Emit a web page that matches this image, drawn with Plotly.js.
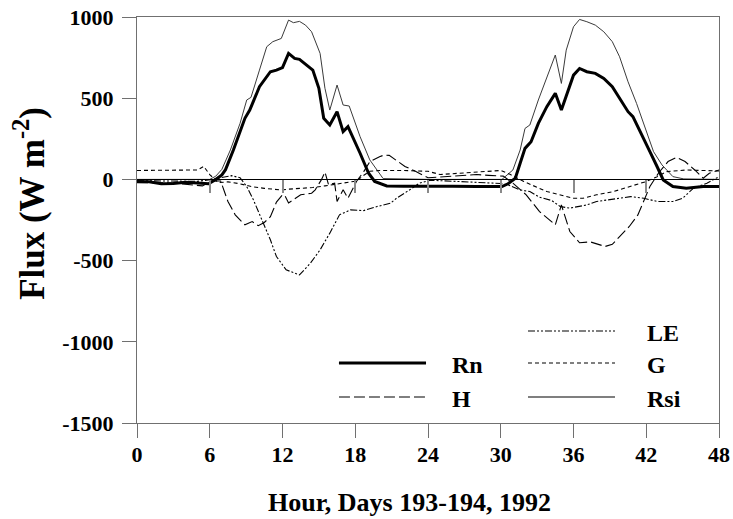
<!DOCTYPE html>
<html>
<head>
<meta charset="utf-8">
<script src="https://cdn.plot.ly/plotly-3.0.1.min.js"></script>
<style>html,body{margin:0;padding:0;background:#fff;}#chart{width:733px;height:519px;}</style>
</head>
<body>
<div id="chart"></div>
<script>
// ---- data (hour, W m-2) ----
const rsiHour = [0, 6.0, 6.5, 7.0, 7.7, 8.5, 9.05, 9.4, 10.1, 10.7, 11.2, 11.9, 12.5, 12.9, 13.4, 13.9, 14.4, 15.1, 15.5, 15.9, 16.5, 17.0, 17.5, 18.4, 19.2, 20.3, 24, 30.1, 31.0, 31.6, 32.0, 32.4, 33.1, 33.8, 34.5, 35.0, 35.4, 36.0, 36.5, 37.1, 37.8, 38.5, 39.2, 39.8, 40.5, 41.2, 41.9, 42.6, 43.3, 44.2, 45.1, 48];
const rsiFlux = [0, 0, 20, 62, 181, 345, 489, 505, 673, 817, 848, 868, 981, 965, 973, 950, 909, 776, 561, 427, 581, 458, 452, 263, 120, 5, 0, 0, 58, 181, 314, 335, 489, 632, 766, 591, 796, 940, 985, 971, 950, 909, 848, 755, 601, 468, 314, 171, 89, 17, 3, 0];

const rnHour = [0, 1, 2, 3, 4, 5, 5.9, 6.4, 7.0, 7.3, 7.95, 8.9, 9.3, 10.1, 11.0, 11.5, 12.0, 12.5, 13.0, 13.4, 14.0, 14.5, 15.0, 15.4, 15.9, 16.5, 17.0, 17.4, 18.4, 19.1, 19.6, 20.6, 22, 24, 26, 28, 30.1, 30.6, 31.2, 31.6, 32.0, 32.5, 33.1, 33.8, 34.5, 35.0, 35.6, 36.0, 36.5, 37.1, 37.8, 38.5, 39.2, 39.8, 40.5, 40.9, 41.6, 42.3, 42.9, 43.4, 44.2, 45.3, 46.7, 48];
const rnFlux = [-13, -15, -27, -25, -18, -22, -27, -5, 28, 60, 181, 376, 427, 571, 663, 673, 689, 776, 745, 739, 704, 673, 561, 376, 335, 417, 294, 325, 161, 38, -13, -40, -42, -40, -42, -44, -44, -27, 7, 99, 191, 232, 345, 448, 530, 427, 550, 642, 683, 663, 653, 622, 571, 499, 417, 386, 274, 171, 78, -3, -44, -54, -44, -44];

const hHour = [0, 3, 5.4, 6.2, 6.9, 7.5, 8.1, 8.9, 9.5, 10.0, 10.5, 11.0, 11.5, 12.0, 12.2, 12.5, 12.9, 13.5, 14.4, 14.7, 15.2, 15.5, 15.8, 16.3, 16.5, 17.0, 17.4, 17.7, 18.1, 18.7, 19.2, 20.0, 20.4, 20.8, 21.3, 22.1, 23.0, 24.0, 25, 26, 27, 28, 29, 30.2, 31.0, 32.1, 33.2, 34.5, 35.0, 35.7, 36.5, 37.4, 38.6, 39.2, 39.8, 40.6, 41.3, 41.8, 42.3, 43.0, 43.8, 44.5, 45.2, 46.0, 46.7, 47.2, 48];
const hFlux = [-20, -22, -40, -8, -10, -136, -218, -280, -260, -285, -265, -230, -140, -95, -100, -145, -125, -95, -85, -64, -3, 45, -33, -23, -136, -64, -116, -75, -13, 48, 109, 140, 150, 148, 120, 80, 48, 10, 15, 20, 25, 30, 25, 20, -23, -95, -198, -280, -157, -321, -390, -385, -413, -400, -352, -290, -220, -130, -44, 38, 110, 135, 110, 58, 7, 38, 58];

const gHour = [0, 2, 4, 5.0, 5.5, 6.0, 6.7, 7.5, 8.4, 9.5, 10.5, 11.9, 12.5, 13.8, 14.5, 15.5, 16.5, 17.5, 18.1, 18.6, 19.2, 20, 22, 24, 25, 26, 27, 28, 29, 30, 30.8, 31.9, 33.8, 35.4, 36.0, 36.8, 37.9, 39.3, 40.7, 42.0, 42.9, 43.7, 45.3, 48];
const gFlux = [55, 55, 55, 58, 80, 30, -20, -15, -26, -45, -55, -65, -60, -55, -50, -40, -30, -20, -10, 20, 50, 55, 55, 50, 30, 35, 40, 48, 50, 55, 30, -13, -75, -106, -116, -116, -95, -75, -44, -13, 17, 48, 58, 52];

const leHour = [0, 3, 5, 6.2, 7.0, 7.8, 8.5, 9.05, 9.6, 10.4, 11.0, 11.5, 12.3, 13.4, 14.3, 15.1, 15.9, 16.7, 17.6, 18.7, 19.8, 20.9, 21.4, 22.5, 23.3, 24.2, 26, 28, 30, 30.6, 31.6, 32.4, 33.2, 34.2, 34.9, 35.7, 36.3, 37.1, 37.9, 38.7, 39.8, 40.7, 41.8, 42.9, 44.2, 45.0, 45.9, 47, 48];
const leFlux = [-8, -10, -12, 0, 10, 23, 10, -44, -126, -270, -372, -475, -557, -588, -516, -434, -331, -218, -188, -192, -167, -147, -116, -64, -23, -5, -10, -15, -25, -34, -65, -75, -110, -130, -167, -177, -167, -157, -136, -126, -116, -106, -116, -136, -136, -116, -54, -24, 17];

const xTicks = [0, 6, 12, 18, 24, 30, 36, 42, 48];
const yTicks = [1000, 500, 0, -500, -1000, -1500];
const legendNames = ['LE', 'G', 'Rsi', 'Rn', 'H'];
const xTitle = 'Hour, Days 193-194, 1992';
const yTitle = 'Flux (W m<sup>-2</sup>)';

const FONT = 'Liberation Serif';

const traces = [
  {x: rsiHour, y: rsiFlux, name: 'Rsi', mode: 'lines', line: {color: '#3a3a3a', width: 1}},
  {x: leHour, y: leFlux, name: 'LE', mode: 'lines', line: {color: '#000', width: 1.1, dash: '7px,2px,2px,2px,2px,2px'}},
  {x: gHour, y: gFlux, name: 'G', mode: 'lines', line: {color: '#000', width: 1.1, dash: '4px,3px'}},
  {x: hHour, y: hFlux, name: 'H', mode: 'lines', line: {color: '#000', width: 1.1, dash: '11px,4px'}},
  {x: rnHour, y: rnFlux, name: 'Rn', mode: 'lines', line: {color: '#000', width: 3}},
  {x: [0], y: [null], xaxis: 'x2', showlegend: false, hoverinfo: 'skip'}
];

// legend drawn inside the plot (paper coords)
const legendRows = {LE: 0.2266, G: 0.1478, Rsi: 0.0640, Rn: 0.1478, H: 0.0640};
const legendStyles = {
  LE: {color: '#000', width: 1.1, dash: '7px,2px,2px,2px,2px,2px'},
  G: {color: '#000', width: 1.1, dash: '4px,3px'},
  Rsi: {color: '#000', width: 1.1},
  Rn: {color: '#000', width: 3},
  H: {color: '#000', width: 1.1, dash: '11px,4px'}
};
const shapes = [];
const annotations = [];
legendNames.forEach(function (n) {
  const left = (n === 'Rn' || n === 'H');
  const x0 = left ? 0.347 : 0.6718, x1 = left ? 0.4966 : 0.8213;
  const tx = left ? 0.5378 : 0.8729;
  const y = legendRows[n];
  shapes.push({type: 'line', xref: 'paper', yref: 'paper', x0: x0, x1: x1, y0: y, y1: y, line: legendStyles[n]});
  annotations.push({xref: 'paper', yref: 'paper', x: tx, y: y - 0.006, xanchor: 'left', yanchor: 'middle', showarrow: false,
    text: n, font: {family: FONT, size: 24, color: '#000', weight: 'bold'}});
});
// axis titles
annotations.push({xref: 'paper', yref: 'paper', x: 0.4674, y: -0.2345, xanchor: 'center', yanchor: 'bottom', showarrow: false,
  borderpad: 0, text: xTitle, font: {family: FONT, size: 26, color: '#000', weight: 'bold'}});
annotations.push({xref: 'paper', yref: 'paper', x: -0.184, y: 0.542, xanchor: 'center', yanchor: 'middle', showarrow: false,
  textangle: -90, text: yTitle, font: {family: FONT, size: 35, color: '#000', weight: 'bold'}});

const layout = {
  width: 733, height: 519,
  margin: {l: 137, r: 14, t: 17, b: 96, pad: 0},
  paper_bgcolor: '#fff', plot_bgcolor: '#fff',
  showlegend: false,
  xaxis: {
    range: [0, 48], tickvals: xTicks, ticktext: xTicks.map(String),
    ticks: 'outside', ticklen: 14, tickwidth: 1, tickcolor: '#707070',
    showline: true, linecolor: '#707070', linewidth: 1, mirror: true,
    showgrid: false, zeroline: false, ticklabelstandoff: -2,
    tickfont: {family: FONT, size: 22, color: '#000', weight: 'bold'}
  },
  xaxis2: {
    overlaying: 'x', anchor: 'free', position: 0.6, side: 'bottom',
    range: [0, 48], tickvals: xTicks.slice(1, 8), showticklabels: false,
    ticks: 'outside', ticklen: 13, tickwidth: 2, tickcolor: '#8a8a8a',
    showline: true, linecolor: '#000', linewidth: 1, showgrid: false, zeroline: false
  },
  yaxis: {
    range: [-1500, 1000], tickvals: yTicks, ticktext: yTicks.map(String),
    ticks: 'outside', ticklen: 14, tickwidth: 1, tickcolor: '#707070',
    showline: true, linecolor: '#707070', linewidth: 1, mirror: true,
    showgrid: false, zeroline: false, ticklabelstandoff: 4,
    tickfont: {family: FONT, size: 22, color: '#000', weight: 'bold'}
  },
  shapes: shapes,
  annotations: annotations
};

Plotly.newPlot('chart', traces, layout, {displayModeBar: false, staticPlot: true});
</script>
</body>
</html>
